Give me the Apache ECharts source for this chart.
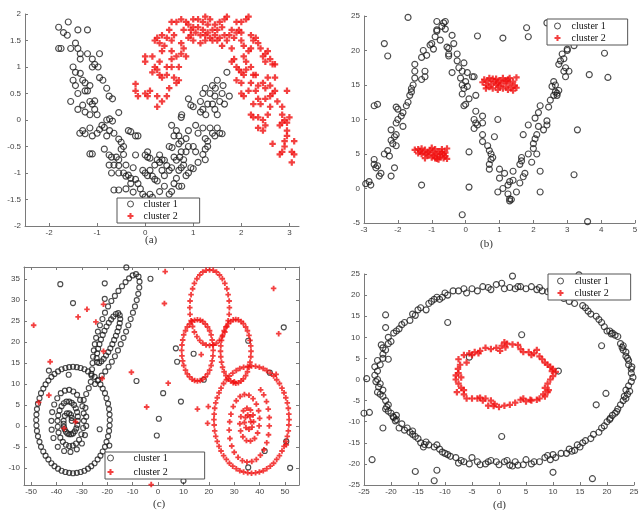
<!DOCTYPE html>
<html><head><meta charset="utf-8">
<script src="https://cdn.jsdelivr.net/npm/echarts@6/dist/echarts.min.js"></script>
<style>html,body{margin:0;padding:0;background:#fff}#c{width:639px;height:510px}</style>
</head><body><div id="c"></div><script>
// ---------- tick labels ----------
const aXTicks = [-2,-1,0,1,2,3];
const aYTicks = [-2,-1.5,-1,-0.5,0,0.5,1,1.5,2];
const bXTicks = [-3,-2,-1,0,1,2,3,4,5];
const bYTicks = [-5,0,5,10,15,20,25];
const cXTicks = [-50,-40,-30,-20,-10,0,10,20,30,40,50];
const cYTicks = [-10,-5,0,5,10,15,20,25,30,35];
const dXTicks = [-25,-20,-15,-10,-5,0,5,10,15,20,25];
const dYTicks = [-25,-20,-15,-10,-5,0,5,10,15,20,25];
const seriesNames = ['cluster 1','cluster 2'];
const panelLabels = ['(a)','(b)','(c)','(d)'];

// ---------- (a) ----------
const aCluster1 = [[-1.8,1.75],[-1.6,1.85],[-1.7,1.65],[-1.62,1.6],[-1.4,1.7],[-1.2,1.7],[-1.8,1.35],[-1.75,1.35],[-1.55,1.35],[-1.45,1.45],[-1.4,1.35],[-1.35,1.25],[-1.35,1.15],[-1.2,1.25],[-1.1,1.15],[-1.05,1.05],[-1.1,1.0],[-0.98,1.0],[-0.95,1.25],[-1.5,1.0],[-1.45,0.9],[-1.5,0.75],[-1.45,0.65],[-1.35,0.88],[-1.3,0.75],[-1.25,0.7],[-1.25,0.55],[-1.2,0.55],[-1.15,0.65],[-1.4,0.5],[-1.55,0.35],[-1.4,0.2],[-1.3,0.28],[-1.15,0.35],[-1.1,0.3],[-1.05,0.36],[-1.05,0.2],[-1.25,0.15],[-1.0,0.1],[-1.15,0.1],[-0.95,0.8],[-0.88,0.75],[-0.8,0.6],[-0.75,0.45],[-0.68,0.4],[-0.8,0.0],[-0.74,0.02],[-0.68,-0.02],[-0.55,0.14],[-0.9,-0.1],[-1.3,-0.2],[-1.36,-0.25],[-1.25,-0.26],[-1.15,-0.15],[-1.1,-0.3],[-1.0,-0.25],[-0.95,-0.18],[-0.85,-0.14],[-0.8,-0.3],[-0.74,-0.2],[-0.65,-0.25],[-0.55,-0.36],[-0.5,-0.42],[-0.45,-0.5],[-0.35,-0.2],[-0.3,-0.22],[-0.2,-0.3],[-0.15,-0.3],[-1.15,-0.64],[-1.1,-0.64],[-0.85,-0.55],[-0.75,-0.66],[-0.7,-0.7],[-0.6,-0.7],[-0.55,-0.75],[-0.65,-0.85],[-0.55,-0.86],[-0.5,-0.55],[-0.45,-0.65],[-0.4,-0.85],[-0.75,-0.85],[-0.7,-1.0],[-0.55,-1.0],[-0.45,-1.0],[-0.4,-1.06],[-0.35,-1.04],[-0.3,-1.1],[-0.25,-0.9],[-0.2,-0.66],[-0.2,-1.12],[-0.15,-1.2],[-0.1,-1.3],[-0.05,-1.4],[0.0,-1.45],[-0.65,-1.32],[-0.55,-1.32],[-0.4,-1.3],[-0.3,-1.2],[-0.25,-1.36],[0.05,-0.7],[0.05,-0.6],[0.0,-0.66],[0.1,-0.72],[-0.05,-0.95],[0.0,-1.0],[0.05,-1.05],[0.1,-0.95],[0.15,-1.06],[0.2,-1.12],[0.25,-1.15],[0.2,-0.85],[0.25,-0.75],[0.3,-0.8],[0.3,-0.66],[0.35,-0.75],[0.4,-0.76],[0.45,-0.86],[0.35,-0.95],[0.4,-1.05],[0.4,-1.25],[0.3,-1.35],[0.1,-1.4],[0.15,-1.46],[0.5,-0.5],[0.56,-0.52],[0.5,-1.4],[0.55,-1.35],[0.6,-1.2],[0.65,-1.1],[0.7,-1.25],[0.76,-1.25],[0.7,-0.95],[0.75,-0.9],[0.8,-0.85],[0.85,-1.05],[0.9,-1.0],[0.95,-0.9],[0.6,-0.7],[0.65,-0.76],[0.72,-0.7],[0.8,-0.75],[0.85,-0.6],[0.75,-0.6],[0.55,-0.9],[0.5,-0.95],[0.6,-0.3],[0.65,-0.2],[0.55,-0.1],[0.7,-0.3],[0.75,-0.4],[0.85,-0.35],[0.75,0.05],[0.76,0.1],[0.7,-0.45],[0.9,-0.2],[0.9,-0.5],[0.95,0.28],[0.9,0.4],[1.0,0.25],[1.05,-0.1],[1.1,-0.25],[1.0,-0.5],[1.05,-0.6],[1.1,-0.8],[1.0,-0.92],[1.15,0.15],[1.2,0.2],[1.26,0.1],[1.2,-0.15],[1.25,-0.35],[1.3,-0.4],[1.35,-0.15],[1.3,-0.5],[1.25,-0.55],[1.2,-0.65],[1.15,0.35],[1.2,0.5],[1.25,0.6],[1.3,0.3],[1.35,0.5],[1.4,0.65],[1.46,0.6],[1.4,0.3],[1.45,0.45],[1.45,0.2],[1.5,0.1],[1.5,-0.15],[1.55,-0.25],[1.6,-0.26],[1.55,0.35],[1.6,0.5],[1.62,0.65],[1.5,0.75],[1.7,0.9],[1.75,0.45],[1.65,0.3],[1.4,-0.25],[1.45,-0.3],[1.25,-0.75]];
const aCluster2 = [[-0.2,0.68],[-0.2,0.55],[-0.15,0.45],[0.0,0.5],[0.1,0.55],[0.05,0.45],[0.25,0.45],[0.25,0.25],[0.35,0.35],[0.45,0.45],[0.5,0.6],[0.0,1.2],[0.0,1.1],[0.15,1.2],[0.2,1.0],[0.25,0.95],[0.3,1.1],[0.2,1.5],[0.25,1.55],[0.3,1.45],[0.35,1.3],[0.35,1.6],[0.45,1.55],[0.5,1.7],[0.55,1.5],[0.55,1.3],[0.6,1.6],[0.65,1.2],[0.55,1.15],[0.55,1.0],[0.45,1.0],[0.45,0.85],[0.35,0.8],[0.3,0.85],[0.6,0.8],[0.65,0.7],[0.7,1.0],[0.75,1.25],[0.75,1.45],[0.8,1.35],[0.8,1.7],[0.75,1.9],[0.85,1.85],[0.9,1.8],[0.95,1.6],[0.95,1.7],[1.0,1.75],[1.0,1.9],[1.05,1.65],[1.1,1.9],[1.1,1.75],[1.15,1.6],[1.2,1.85],[1.2,1.7],[1.25,1.6],[1.25,1.5],[1.3,1.65],[1.3,1.8],[1.35,1.9],[1.35,1.55],[1.4,1.7],[1.45,1.6],[1.45,1.8],[1.5,1.5],[1.5,1.7],[1.55,1.55],[1.6,1.75],[1.6,1.4],[1.65,1.6],[1.7,1.95],[1.7,1.5],[1.75,1.6],[1.8,1.7],[1.8,1.35],[1.85,1.55],[1.9,1.65],[1.9,1.85],[1.95,1.7],[2.0,1.5],[2.0,1.65],[2.05,1.4],[2.1,1.9],[2.15,1.95],[2.05,1.2],[2.1,1.1],[2.15,1.3],[2.2,1.35],[2.2,1.6],[2.25,1.5],[2.3,1.55],[2.35,1.45],[2.4,1.35],[2.45,1.2],[2.5,1.25],[2.5,1.1],[2.55,1.3],[2.6,1.15],[2.65,1.05],[2.7,1.05],[1.8,1.1],[1.85,1.15],[1.9,1.0],[1.95,0.95],[2.0,0.9],[2.05,0.85],[1.9,0.75],[2.0,0.7],[2.1,0.95],[2.2,1.0],[2.25,0.85],[2.3,0.85],[2.15,0.55],[2.2,0.7],[2.05,0.45],[2.0,0.5],[2.3,0.55],[2.35,0.4],[2.25,0.3],[2.4,0.3],[2.35,0.65],[2.45,0.7],[2.5,0.6],[2.55,0.8],[2.6,0.65],[2.6,0.45],[2.65,0.5],[2.7,0.8],[2.7,0.55],[2.5,0.4],[2.2,0.1],[2.25,0.05],[2.35,0.05],[2.45,0.0],[2.5,-0.1],[2.45,-0.2],[2.35,-0.15],[2.55,0.1],[2.6,0.25],[2.75,0.35],[2.85,0.25],[2.85,0.1],[2.9,0.0],[2.85,-0.05],[2.8,-0.1],[2.95,-0.05],[2.95,0.55],[3.0,0.05],[2.95,-0.3],[2.9,-0.4],[3.1,-0.4],[2.65,-0.45],[2.8,-0.65],[2.85,-0.6],[2.9,-0.5],[3.05,-0.6],[3.1,-0.65],[3.05,-0.8],[2.95,-0.2],[1.0,1.5],[1.15,1.45],[0.9,1.55],[1.4,1.5],[1.55,1.85],[1.25,1.95],[0.65,1.85],[0.55,1.85],[0.4,1.4],[0.15,0.9],[0.85,1.2],[0.7,0.75],[1.65,1.9],[2.0,1.85]];

// ---------- (b) ----------
const bCluster1 = [[-2.95,0.7],[-2.85,1.0],[-2.8,0.5],[-2.7,3.5],[-2.7,4.2],[-2.65,3.0],[-2.6,3.3],[-2.55,1.8],[-2.5,2.2],[-2.7,12.0],[-2.6,12.2],[-2.4,5.0],[-2.3,5.5],[-2.25,4.7],[-2.2,1.8],[-2.1,3.0],[-2.2,7.0],[-2.15,6.5],[-2.1,7.5],[-2.05,6.2],[-2.05,7.8],[-2.2,8.5],[-2.05,9.5],[-2.0,10.0],[-2.0,11.5],[-2.05,11.8],[-1.9,10.5],[-1.85,9.0],[-1.85,11.0],[-1.75,12.0],[-1.7,12.5],[-1.65,13.5],[-1.6,14.0],[-1.6,14.5],[-1.55,15.0],[-1.5,16.0],[-1.5,17.0],[-1.5,18.0],[-1.3,15.8],[-1.3,19.0],[-1.25,20.0],[-1.2,17.0],[-1.2,16.2],[-1.15,19.3],[-1.05,20.8],[-1.0,21.0],[-0.95,20.2],[-0.9,22.0],[-0.85,22.8],[-0.85,23.0],[-0.85,24.2],[-0.75,21.5],[-0.7,23.5],[-0.65,24.0],[-0.6,24.2],[-0.6,23.1],[-0.55,20.5],[-0.5,19.2],[-0.5,20.3],[-0.4,22.2],[-0.35,21.0],[-0.4,16.8],[-0.25,19.5],[-0.25,18.5],[-0.2,17.5],[-0.15,16.0],[-0.1,17.0],[-0.05,18.2],[-0.1,15.0],[-0.05,14.5],[-0.1,13.7],[0.0,15.5],[0.05,16.8],[0.0,12.2],[-0.05,12.0],[0.1,13.0],[0.05,14.8],[0.25,16.2],[0.3,13.5],[0.3,11.2],[0.25,10.0],[0.25,8.7],[0.35,9.2],[0.3,9.5],[0.5,9.5],[0.5,10.5],[0.5,7.8],[0.5,6.8],[0.65,6.2],[0.7,5.5],[0.75,5.0],[0.8,4.5],[0.7,3.5],[0.7,2.8],[0.75,4.2],[0.85,7.5],[0.95,10.0],[1.0,2.8],[1.0,1.5],[0.95,-0.5],[1.1,0.0],[1.15,2.2],[1.25,0.5],[1.3,1.0],[1.25,-0.8],[1.3,-1.5],[1.35,-1.6],[1.3,-1.8],[1.4,1.2],[1.4,2.5],[1.5,-0.5],[1.6,0.8],[1.6,3.5],[1.65,4.0],[1.65,4.5],[1.7,1.7],[1.75,2.2],[1.7,7.8],[1.85,9.2],[1.85,5.0],[1.95,3.8],[2.0,6.5],[2.05,7.2],[2.1,7.8],[2.0,5.8],[2.1,5.0],[2.05,10.2],[2.15,9.0],[2.2,2.5],[2.2,-0.5],[2.15,11.0],[2.2,12.0],[2.3,8.5],[2.4,9.2],[2.4,9.8],[2.45,11.8],[2.5,12.8],[2.55,14.8],[2.6,15.5],[2.65,14.0],[2.7,13.8],[2.75,14.2],[2.75,18.0],[2.8,18.5],[2.85,19.5],[2.9,18.8],[2.9,17.0],[2.95,16.2],[2.95,17.5],[3.0,20.2],[3.05,17.0],[2.6,13.5],[2.65,15.0],[3.2,2.0],[3.3,8.5],[3.6,-4.8],[3.65,16.5],[4.1,19.6],[4.2,16.1],[2.7,13.5],[3.2,20.7],[3.0,20.0],[1.8,23.3],[1.85,22.0],[2.4,24.0],[1.1,21.8],[0.35,22.1],[-1.7,24.8],[-2.4,21.0],[-2.3,19.2],[-1.3,0.5],[0.1,0.2],[0.1,5.3],[-0.1,-3.8],[0.2,16.2],[-0.5,19.5]];
const bCluster2 = [[-1.5,5.6],[-1.4,5.7],[-1.35,5.4],[-1.3,5.8],[-1.25,5.2],[-1.2,5.6],[-1.15,5.0],[-1.1,4.8],[-1.05,5.5],[-1.0,4.5],[-0.95,5.2],[-0.95,4.8],[-0.9,5.7],[-0.85,4.3],[-0.85,5.0],[-0.8,5.4],[-0.75,4.6],[-0.75,4.9],[-0.7,5.3],[-0.65,4.4],[-0.65,5.0],[-0.6,4.7],[-0.55,5.8],[-0.55,4.3],[-1.2,4.4],[-1.3,5.0],[-0.9,4.4],[-1.0,5.9],[-0.7,5.7],[-1.4,5.1],[-1.1,5.3],[-0.8,4.2],[-0.6,5.2],[0.5,15.4],[0.55,15.8],[0.6,15.0],[0.65,15.6],[0.7,14.7],[0.75,15.2],[0.8,15.9],[0.8,14.5],[0.85,15.5],[0.9,15.0],[0.95,14.3],[1.0,15.7],[1.0,14.8],[1.05,15.2],[1.1,16.0],[1.1,14.5],[1.15,15.5],[1.2,14.8],[1.25,15.8],[1.25,14.3],[1.3,15.2],[1.35,14.6],[1.4,15.5],[1.45,14.9],[1.5,16.1],[1.5,14.6],[0.7,16.0],[0.6,14.5],[0.9,15.9],[1.2,15.6],[1.4,14.2],[0.95,15.3],[1.3,16.0]];

// ---------- (c) ----------
const cCluster1 = [
[-19.0,1.4],[-19.1,2.7],[-19.3,4.0],[-19.7,5.3],[-20.3,6.6],[-20.9,7.8],[-21.8,8.9],[-22.7,9.9],[-23.8,10.8],[-25.0,11.7],[-26.3,12.4],[-27.6,13.0],[-29.0,13.5],[-30.5,13.8],[-32.0,14.0],
[-33.5,14.1],[-35.0,14.0],[-36.5,13.8],[-38.0,13.5],[-39.4,13.0],[-40.8,12.4],[-42.0,11.7],[-43.2,10.8],[-44.3,9.9],[-45.2,8.9],[-46.1,7.8],[-46.7,6.6],[-47.3,5.3],[-47.7,4.0],[-47.9,2.7],
[-48.0,1.4],[-47.9,0.1],[-47.7,-1.2],[-47.3,-2.5],[-46.7,-3.8],[-46.1,-5.0],[-45.2,-6.1],[-44.3,-7.1],[-43.2,-8.0],[-42.0,-8.9],[-40.8,-9.6],[-39.4,-10.2],[-38.0,-10.7],[-36.5,-11.0],[-35.0,-11.2],
[-33.5,-11.3],[-32.0,-11.2],[-30.5,-11.0],[-29.0,-10.7],[-27.6,-10.2],[-26.3,-9.6],[-25.0,-8.9],[-23.8,-8.0],[-22.7,-7.1],[-21.8,-6.1],[-20.9,-5.0],[-20.3,-3.8],[-19.7,-2.5],[-19.3,-1.2],[-19.1,0.1],
[-34,1.2],[-34,1.9],[-34.3,2.6],[-35,3.0],[-35.9,3.0],[-36.7,2.4],[-37.2,1.2],[-37.1,-0.2],[-36.3,-1.4],[-35,-2.0],[-33.5,-1.8],[-32.2,-0.6],[-31.6,1.2],[-31.9,3.3],[-33.1,5.0],[-35,5.8],[-37.1,5.4],[-38.8,3.7],[-39.6,1.2],[-39.2,-1.6],[-37.5,-3.8],[-35,-4.8],[-32.3,-4.2],[-30.2,-2.0],[-29.2,1.2],[-29.8,4.7],[-31.9,7.4],[-35,8.6],[-38.3,7.8],[-40.9,5.1],[-42,1.2],[-41.2,-2.9],[-39.5,-5.0],[-37,-6.0],[-34.5,-6.2],[-32,-5.6],[-30,-4.2],[-28.8,-2.2],[-28.3,0],[-28.3,2.2],[-28.6,4.3],[-29.3,6.2],
[-39.5,-0.2],[-38.5,-2.8],[-36.3,-4.5],[-33.6,-4.7],[-31.1,-3.3],[-29.5,-0.5],[-29.3,3.0],[-30.7,6.2],[-33.4,8.2],[-36.7,8.4],[-39.7,6.6],[-41.7,3.3],[-41.9,-0.9],
[-31.6,2.2],[-32.4,4.2],[-34,5.5],[-36.1,5.8],[-38,4.7],[-39.3,2.5],[-37.2,0.5],[-36.8,-0.8],[-35.7,-1.8],[-34.2,-2.0],[-32.8,-1.3],[-31.8,0.2],
[-28.3,7.6],[-27.3,9.0],
[-26.5,10.5],[-26.2,12],[-26,13.5],[-25.8,15],[-25.6,16.5],[-25.3,18],[-24.9,19.5],[-24.4,21],[-23.7,22.5],[-22.9,24],[-21.9,25.5],[-20.9,27],[-19.7,28.5],[-18.4,29.8],[-17,31],[-15.6,32.2],[-14.2,33.3],[-12.8,34.3],[-11.4,35.2],[-10,35.9],[-8.7,36.2],[-7.7,35.6],[-7.3,34.4],[-7.4,33],[-7.8,31.5],[-8.4,30],[-9.1,28.5],[-9.9,27],[-10.8,25.5],[-11.7,24],[-12.6,22.5],[-13.6,21],[-14.7,19.5],[-15.8,18],[-17,16.6],[-18.2,15.3],[-19.5,14.1],[-20.8,13],[-22.2,12],[-23.5,11],[-24.8,10],
[-24,15.2],[-24.2,16.2],[-24,17.3],[-23.6,18.4],[-23.1,19.5],[-22.5,20.6],[-21.8,21.7],[-21.1,22.7],[-20.3,23.7],[-19.4,24.6],[-18.5,25.4],[-17.6,26.1],[-16.6,26.7],[-15.7,26.9],[-15.1,26.4],[-14.9,25.5],[-15.1,24.5],[-15.5,23.5],[-16,22.5],[-16.6,21.5],[-17.3,20.5],[-18,19.5],[-18.8,18.5],[-19.6,17.6],[-20.5,16.8],[-21.4,16],[-22.3,15.4],[-23.2,15],
[-38.5,33.8],[-33.5,29.3],[-21,34],[-21,30.3],[-12.5,37.8],[-3,35.1],[-35.2,12.2],[-43,13.2],[-8.5,10.7],[-23,-0.8],[-19.2,-4.7],[7,18.5],[7.5,15.3],[14,17.2],[18,11],[2,7.8],[9,5.8],[0.3,1.7],[-0.5,-2.3],[10,-13.1],[35.5,20.3],[35.5,-9.9],[42,-6],[44,12.7],[49.5,23.5],[50.5,-3.7],[52,-10]];
const cCluster2 = [
[28.1,28.2],[28.0,29.8],[27.6,31.3],[27.1,32.7],[26.3,34.0],[25.3,35.1],[24.2,36.0],[23.0,36.7],[21.7,37.1],[20.3,37.2],[18.9,37.1],[17.6,36.7],[16.4,36.0],[15.3,35.1],[14.3,34.0],[13.6,32.7],[13.0,31.3],[12.6,29.8],[12.5,28.2],[12.6,26.6],[13.0,25.1],[13.6,23.7],[14.3,22.4],[15.3,21.3],[16.4,20.4],[17.6,19.7],[18.9,19.3],[20.3,19.2],[21.7,19.3],[23.0,19.7],[24.2,20.4],[25.3,21.3],[26.3,22.4],[27.1,23.7],[27.6,25.1],[28.0,26.6],
[21.7,18],[21.6,19.3],[21.3,20.5],[20.9,21.7],[20.3,22.7],[19.5,23.6],[18.6,24.3],[17.6,24.9],[16.6,25.2],[15.5,25.3],[14.4,25.2],[13.4,24.9],[12.4,24.3],[11.5,23.6],[10.8,22.7],[10.1,21.7],[9.7,20.5],[9.4,19.3],[9.3,18],[9.4,16.7],[9.7,15.5],[10.1,14.4],[10.8,13.3],[11.5,12.4],[12.4,11.7],[13.4,11.1],[14.4,10.8],[15.5,10.7],[16.6,10.8],[17.6,11.1],[18.6,11.7],[19.5,12.4],[20.3,13.3],[20.9,14.4],[21.3,15.5],[21.6,16.7],
[36.6,17.8],[36.5,19.1],[36.2,20.4],[35.8,21.6],[35.2,22.7],[34.5,23.6],[33.6,24.4],[32.7,24.9],[31.6,25.3],[30.6,25.4],[29.6,25.3],[28.6,24.9],[27.6,24.4],[26.7,23.6],[26.0,22.7],[25.4,21.6],[25.0,20.4],[24.7,19.1],[24.6,17.8],[24.7,16.5],[25.0,15.2],[25.4,14.0],[26.0,12.9],[26.7,12.0],[27.6,11.2],[28.6,10.7],[29.6,10.3],[30.6,10.2],[31.6,10.3],[32.7,10.7],[33.6,11.2],[34.5,12.0],[35.2,12.9],[35.8,14.0],[36.2,15.2],[36.5,16.5],
[51.6,1.5],[51.5,2.8],[51.3,4.2],[50.9,5.5],[50.3,6.7],[49.6,7.9],[48.8,9.0],[47.8,10.1],[46.7,11.0],[45.5,11.9],[44.2,12.6],[42.8,13.2],[41.4,13.7],[39.9,14.0],[38.4,14.2],[36.8,14.3],[35.3,14.2],[33.7,14.0],[32.2,13.7],[30.8,13.2],[29.4,12.6],[28.1,11.9],[26.9,11.0],[25.8,10.1],[24.8,9.0],[24.0,7.9],[23.3,6.7],[22.7,5.5],[22.3,4.2],[22.1,2.8],[22.0,1.5],[22.1,0.2],[22.3,-1.2],[22.7,-2.5],[23.3,-3.7],[24.0,-4.9],[24.8,-6.0],[25.8,-7.1],[26.9,-8.0],[28.1,-8.9],[29.4,-9.6],[30.8,-10.2],[32.2,-10.7],[33.7,-11.0],[35.3,-11.2],[36.8,-11.3],[38.4,-11.2],[39.9,-11.0],[41.4,-10.7],[42.8,-10.2],[44.2,-9.6],[45.5,-8.9],[46.7,-8.0],[47.8,-7.1],[48.8,-6.0],[49.6,-4.9],[50.3,-3.7],[50.9,-2.5],[51.3,-1.2],[51.5,0.2],
[36.5,1],[36.2,2.2],[35.3,2.6],[34.4,2],[34,0.8],[34.6,-0.4],[35.8,-0.8],[37,-0.3],[37.6,1],[37.4,2.6],[36.4,3.8],[35,4.2],[33.6,3.6],[32.6,2.2],[32.2,0.5],[32.5,-1.2],[33.4,-2.6],[34.8,-3.5],[36.4,-3.6],[38,-3],[39.2,-1.7],[39.8,0],[40,1.8],[39.6,3.6],[38.7,5.2],[37.4,6.5],[35.8,7.3],[34,7.5],[32.3,7],[30.8,6],[29.6,4.6],[28.7,2.8],[28.2,1],[28,-1],[28.3,-3],[29,-4.8],[30,-6.3],[31.5,-7.5],[33.2,-8.3],[35,-8.6],[36.9,-8.5],[38.7,-8],[40.3,-7],[41.7,-5.7],[42.8,-4],[43.5,-2.1],[43.8,0],[43.8,2],[43.4,4],[42.7,5.8],[41.6,7.4],[40.4,8.6],
[-49,24],[-42.5,15.3],[-43,7.3],[-47,5.6],[-37,-0.6],[-31.5,26],[-28,27.8],[-21.5,29],[-24.5,24.8],[-21.5,17.8],[-22,11.3],[-32.5,1],[-10.5,12.8],[-4.5,4.5],[2.5,29.2],[2.8,36.8],[4,10.2],[-2.7,-14],[15.5,4],[17,17],[19.8,4.6],[19.5,0.6],[30,10.5],[45.5,32.8],[47.5,22],[46.5,12.3],[50.5,-4.5]];

// ---------- (d) ----------
const dCluster1 = [[-8.5,21],[-7.5,21],[-6.5,21.5],[-6,20.5],[-5,21.5],[-4,21],[-3,22],[-2,21.8],[-1.5,21.3],[-0.5,22.5],[0.5,22.8],[1,21.5],[2,21.8],[2.5,24.5],[3,21.5],[3.5,22],[4,22],[5,21.5],[6,22],[7,21.3],[7.5,21.8],[8,21],[9,20.8],[9.5,21.2],[10,20.5],[11,19.8],[12,19.2],[13,18.5],[14,18],[14.8,24.8],[15.5,17.5],[16,17],[16.5,16.2],[17,15.5],[18,15],[18.5,14.2],[19,13.5],[19.5,12.5],[20,11.5],[20.5,11.5],[21,11],[21.5,10.5],[22,10.2],[22.5,8.5],[23,8],[23,7],[23.5,6.5],[23.5,5.5],[24,4.5],[24,3.5],[24.5,2.5],[24.5,1.5],[24.8,0.5],[24.5,-0.5],[24,-1.5],[23.5,-2.5],[23.8,-3.5],[23.5,-4.5],[23,-5],[22.5,-6],[22,-7],[21.5,-8],[21,-8.5],[20.5,-9.5],[20,-10],[19.5,-11],[19,-11.5],[18.5,-12.5],[17.5,-13],[17,-14],[16,-14.5],[15.5,-15],[15,-16],[14.5,-15.5],[14,-16.8],[13.5,-17],[13,-16.5],[12.5,-17.5],[11.5,-17.5],[10.5,-18.5],[10,-17.8],[9.5,-19],[9,-18],[8.5,-18.5],[7.5,-19.5],[6.5,-19.5],[6,-20],[5,-19],[4.5,-20.2],[3.5,-20.3],[3,-19.5],[2.5,-20.5],[2,-20.3],[1.5,-19.2],[1,-19.5],[0,-20.2],[-0.5,-19.5],[-1.5,-19.2],[-2,-19.5],[-2.5,-20],[-3.5,-20.2],[-4,-19.5],[-5,-18.5],[-5.5,-20],[-6.5,-19.5],[-7,-19.2],[-7.5,-19.8],[-8,-18.5],[-9,-18.2],[-9.5,-17.8],[-10,-17.5],[-10.5,-17.2],[-11,-16.5],[-11.5,-15.5],[-12,-16],[-13,-15.5],[-13.5,-14.8],[-14,-16],[-14.5,-15],[-15,-14],[-15.5,-13.5],[-16,-13],[-16.5,-12.5],[-17,-11.5],[-17.5,-12],[-18.5,-11.5],[-19,-9.5],[-19.5,-9],[-19,-8.5],[-20,-8],[-20.5,-7.5],[-21,-7],[-20.5,-6],[-21,-5],[-21.5,-4],[-22,-3.5],[-22.5,-3],[-21.5,-2.5],[-22,-1],[-22.5,0],[-23,1],[-22.5,2],[-23,3],[-22,3.5],[-22.5,4.5],[-21.5,5],[-21.5,6],[-21,7],[-21.5,7.5],[-20.5,8.5],[-20,9],[-20.5,10],[-19.5,11],[-19,11.5],[-18.5,12],[-18,13],[-17.5,13.5],[-16.5,14],[-16,15.5],[-15.5,15.2],[-15,16.5],[-14.5,17],[-13.5,16.5],[-13,18],[-12.5,18.5],[-12,19],[-11.5,19.5],[-11,19],[-10.5,19.5],[-10,20.5],[-9.5,20],[-21,15.3],[-21,12.3],[-20.5,4.8],[-24.5,0.2],[-25,-8],[-24,-7.8],[-23.5,-19],[-15.5,-21.8],[-11.5,-21.5],[-12,-24],[10,-22],[17.3,-23.5],[-9.5,13.5],[4.2,10.6],[19,8],[19.8,-3.3],[18,-6],[0.5,-13.5],[-5.5,5.3],[11,2],[-21.5,-11.5],[-19.2,-9.8],[24.2,-2.8],[23.2,-4],[21.8,-7.6],[20.6,-9.2],[24.6,3],[23.8,5],[22.8,7.6],[20.8,10.8],[-22.3,-1.8],[-20.8,-6.5],[-19.6,-8.8],[-18,-10.5],[-16,-12.2],[-13.8,-15.4],[-22.8,-0.5],[-21.8,8.2]];
const dCluster2 = [[-7.5,4.8],[-6.5,5.8],[-6,4],[-5,5.8],[-4.5,6.5],[-3.5,6.8],[-2.5,7.5],[-1.5,7.2],[-0.5,7.5],[0.5,8],[1,8.8],[1.5,8.5],[0.2,6.8],[3.5,8.2],[4,7.2],[4.5,6.5],[5.5,6.5],[6.5,6.2],[7,7],[7.5,5.5],[8,4.8],[8.5,4],[9,3.5],[9.5,3],[10,2.5],[10.5,1.8],[10,0.8],[9.5,0],[9,-1],[8.5,-2],[9,-3],[8.5,-4],[7.5,-4.5],[7,-4.8],[6,-5],[5,-5.2],[4.5,-4.5],[4,-4.8],[3,-5.5],[2,-6],[1,-6.2],[0,-6.5],[-1,-6.3],[-1.5,-5],[-2.5,-4.5],[-3,-5],[-4,-4.5],[-5,-4.5],[-6,-4.5],[-6.5,-3.5],[-7,-2],[-7.5,-1],[-8,0],[-8,1],[-7.5,1.5],[-7.8,-3],[-7,0.5],[-6.5,-2.5],[-3.8,6.2],[-5.5,6.2],[2.5,8.3],[6,5.8],[9.8,2],[9.2,-2.5],[8.2,-3.5],[-0.8,-5.8],[-7.2,3.5],[-7.6,2.5],[-3.5,-4.3],[5.8,-4.8],[1.2,7.6],[-2,-6.2]];

// ---------- styles ----------
const plusPath = 'path://M3.3,0H6.7V3.3H10V6.7H6.7V10H3.3V6.7H0V3.3H3.3Z';
const axisGray = '#7a7a7a';
const labelStyle = {color:'#444', fontSize:8, fontFamily:'Liberation Sans, Arial, sans-serif'};

function xAx(gi, min, max, ticks, pos, showLabel) {
  return {
    type:'value', gridIndex:gi, min:min, max:max, position:pos || 'bottom',
    axisLine:{show:true, onZero:false, lineStyle:{color:axisGray, width:1}},
    axisTick:{show:true, inside:true, length:3, customValues:ticks, lineStyle:{color:axisGray}},
    axisLabel:Object.assign({show:showLabel !== false, margin:3, customValues:ticks}, labelStyle),
    splitLine:{show:false}
  };
}
function yAx(gi, min, max, ticks, pos, showLabel) {
  return {
    type:'value', gridIndex:gi, min:min, max:max, position:pos || 'left',
    axisLine:{show:true, onZero:false, lineStyle:{color:axisGray, width:1}},
    axisTick:{show:true, inside:true, length:3, customValues:ticks, lineStyle:{color:axisGray}},
    axisLabel:Object.assign({show:showLabel !== false, margin:4, customValues:ticks}, labelStyle),
    splitLine:{show:false}
  };
}
function blackSeries(xi, yi, data, size) {
  return {type:'scatter', name:seriesNames[0], xAxisIndex:xi, yAxisIndex:yi, data:data,
    symbol:'circle', symbolSize:size, silent:true,
    itemStyle:{color:'rgba(0,0,0,0)', borderColor:'#1e1e1e', borderWidth:1.15}};
}
function redSeries(xi, yi, data, size) {
  return {type:'scatter', name:seriesNames[1], xAxisIndex:xi, yAxisIndex:yi, data:data,
    symbol:plusPath, symbolSize:size, silent:true, itemStyle:{color:'#f01010'}};
}
function legendAt(left, top, iw, pad, gap, textPad) {
  return {
    left:left, top:top, orient:'vertical', selectedMode:false,
    itemWidth:iw, itemHeight:6, itemGap:gap, padding:pad,
    borderColor:'#555', borderWidth:1, backgroundColor:'#fff', borderRadius:0,
    textStyle:{fontFamily:'Liberation Serif, Times New Roman, serif', fontSize:10, color:'#111', lineHeight:12, padding:[0,0,0,textPad]},
    data:[
      {name:seriesNames[0], icon:'circle', itemStyle:{color:'rgba(0,0,0,0)', borderColor:'#222', borderWidth:1}},
      {name:seriesNames[1], icon:plusPath, itemStyle:{color:'#f01010', borderWidth:0}}
    ]
  };
}
function panelText(x, y, t) {
  return {type:'text', left:x, top:y, style:{text:t, fill:'#333', font:'11px "Liberation Serif", serif', textAlign:'center'}};
}

const chart = echarts.init(document.getElementById('c'), null, {renderer:'canvas'});
chart.setOption({
  animation:false,
  backgroundColor:'#fff',
  grid:[
    {left:25, top:14, width:274, height:212, outerBoundsMode:'none'},
    {left:364, top:16, width:271, height:207, outerBoundsMode:'none'},
    {left:24, top:267, width:275, height:218, outerBoundsMode:'none'},
    {left:364, top:274, width:270, height:211, outerBoundsMode:'none'}
  ],
  xAxis:[
    xAx(0, -2.5, 3.2, aXTicks),
    xAx(1, -3, 5, bXTicks),
    xAx(2, -52.8, 55.5, cXTicks),
    xAx(2, -52.8, 55.5, cXTicks, 'top', false),
    xAx(3, -25, 25, dXTicks)
  ],
  yAxis:[
    yAx(0, -2, 2, aYTicks),
    yAx(1, -5, 25, bYTicks),
    yAx(2, -14.1, 37.9, cYTicks),
    yAx(2, -14.1, 37.9, cYTicks, 'right', false),
    yAx(3, -25, 25, dYTicks)
  ],
  legend:[
    legendAt(117, 198, 16, [0,22,1,10], 0, 0),
    legendAt(547, 19, 18, [1,22,1,7], 0, 0),
    legendAt(105, 452, 20, [0,37,1,2], 2, 8),
    legendAt(548, 274, 18, [1,22,1,9], 0, 0)
  ],
  series:[
    blackSeries(0, 0, aCluster1, 6),
    redSeries(0, 0, aCluster2, 6.5),
    blackSeries(1, 1, bCluster1, 6),
    redSeries(1, 1, bCluster2, 6.5),
    blackSeries(2, 2, cCluster1, 5),
    redSeries(2, 2, cCluster2, 5.5),
    blackSeries(4, 4, dCluster1, 6),
    redSeries(4, 4, dCluster2, 6.5)
  ],
  graphic:[
    panelText(145, 235, panelLabels[0]),
    panelText(480, 239, panelLabels[1]),
    panelText(153, 499, panelLabels[2]),
    panelText(493, 500, panelLabels[3])
  ]
});
</script></body></html>
